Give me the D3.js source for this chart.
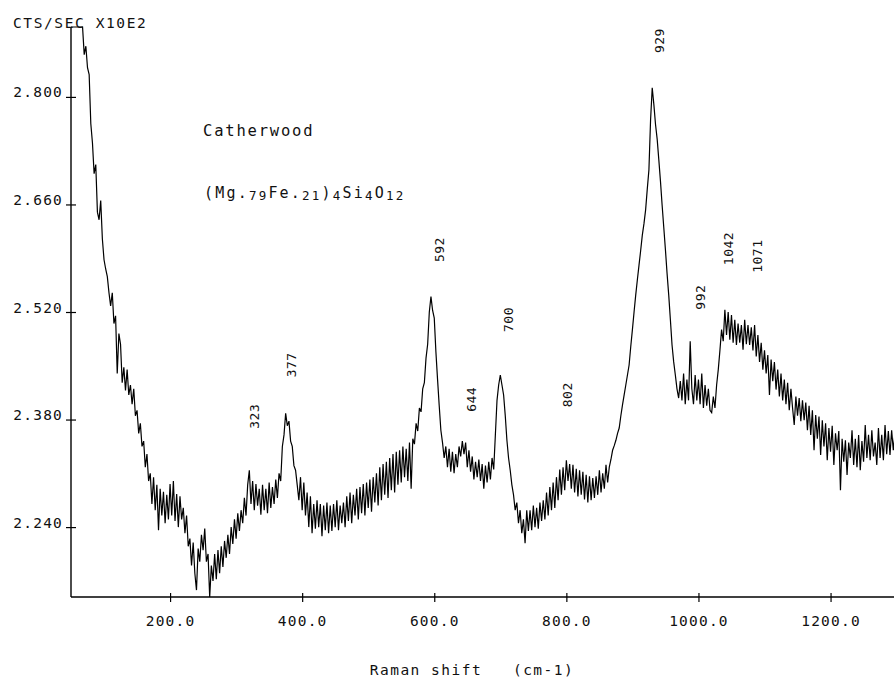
<!DOCTYPE html>
<html>
<head>
<meta charset="utf-8">
<script src="https://cdn.jsdelivr.net/npm/d3@7"></script>
<style>
  html, body { margin: 0; padding: 0; background: #fff; }
  svg { display: block; }
  text { font-family: "DejaVu Sans Mono", monospace; fill: #111; }
</style>
</head>
<body>
<div id="chart"></div>
<script>
// Raman spectrum, values, one every 2.5 cm-1 from 50 to 1300
const shiftStart = 50, shiftStep = 2.5;
const counts = [
  2.950, 2.950, 2.950, 2.950, 2.940, 2.940, 2.930, 2.900,
  2.855, 2.866, 2.838, 2.829, 2.765, 2.740, 2.700, 2.712, 2.650, 2.640,
  2.665, 2.615, 2.588, 2.576, 2.566, 2.545, 2.528, 2.545, 2.505, 2.515,
  2.440, 2.492, 2.478, 2.428, 2.448, 2.418, 2.445, 2.412, 2.425, 2.400,
  2.420, 2.385, 2.392, 2.362, 2.375, 2.345, 2.352, 2.318, 2.335, 2.300,
  2.310, 2.270, 2.305, 2.262, 2.295, 2.236, 2.290, 2.255, 2.286, 2.245,
  2.282, 2.250, 2.296, 2.255, 2.300, 2.248, 2.283, 2.240, 2.280, 2.250,
  2.265, 2.232, 2.255, 2.215, 2.225, 2.190, 2.220, 2.180, 2.158, 2.212,
  2.195, 2.230, 2.210, 2.238, 2.195, 2.205, 2.149, 2.190, 2.170, 2.205,
  2.172, 2.210, 2.180, 2.215, 2.188, 2.222, 2.200, 2.230, 2.205, 2.240,
  2.218, 2.250, 2.225, 2.258, 2.235, 2.262, 2.245, 2.278, 2.255, 2.295,
  2.314, 2.270, 2.300, 2.262, 2.296, 2.268, 2.290, 2.256, 2.295, 2.262,
  2.290, 2.258, 2.298, 2.265, 2.292, 2.270, 2.302, 2.278, 2.310, 2.300,
  2.345, 2.360, 2.388, 2.372, 2.378, 2.352, 2.345, 2.320, 2.314, 2.295,
  2.275, 2.305, 2.262, 2.298, 2.255, 2.285, 2.240, 2.280, 2.232, 2.270,
  2.238, 2.275, 2.240, 2.270, 2.228, 2.268, 2.236, 2.272, 2.232, 2.268,
  2.235, 2.270, 2.240, 2.275, 2.236, 2.268, 2.245, 2.272, 2.240, 2.280,
  2.248, 2.285, 2.245, 2.282, 2.255, 2.290, 2.250, 2.292, 2.258, 2.296,
  2.255, 2.298, 2.265, 2.302, 2.260, 2.305, 2.272, 2.310, 2.268, 2.318,
  2.275, 2.322, 2.282, 2.325, 2.278, 2.330, 2.288, 2.335, 2.285, 2.338,
  2.295, 2.340, 2.298, 2.345, 2.305, 2.342, 2.300, 2.350, 2.290, 2.355,
  2.348, 2.375, 2.365, 2.395, 2.390, 2.420, 2.428, 2.460, 2.478, 2.520,
  2.540, 2.522, 2.512, 2.468, 2.432, 2.398, 2.366, 2.350, 2.330, 2.345,
  2.318, 2.342, 2.312, 2.338, 2.310, 2.335, 2.318, 2.345, 2.332, 2.352,
  2.335, 2.350, 2.318, 2.340, 2.312, 2.332, 2.302, 2.325, 2.305, 2.328,
  2.300, 2.322, 2.290, 2.320, 2.298, 2.325, 2.302, 2.330, 2.315, 2.360,
  2.405, 2.425, 2.438, 2.425, 2.412, 2.385, 2.353, 2.330, 2.314, 2.295,
  2.282, 2.262, 2.272, 2.245, 2.262, 2.232, 2.250, 2.219, 2.262, 2.235,
  2.262, 2.236, 2.268, 2.240, 2.265, 2.238, 2.272, 2.248, 2.275, 2.250,
  2.285, 2.255, 2.292, 2.262, 2.298, 2.265, 2.305, 2.275, 2.315, 2.282,
  2.318, 2.288, 2.327, 2.300, 2.322, 2.290, 2.321, 2.285, 2.316, 2.280,
  2.314, 2.282, 2.312, 2.276, 2.308, 2.272, 2.306, 2.275, 2.304, 2.278,
  2.306, 2.282, 2.314, 2.285, 2.310, 2.290, 2.321, 2.298, 2.318, 2.328,
  2.340, 2.346, 2.353, 2.362, 2.369, 2.385, 2.399, 2.412, 2.425, 2.438,
  2.451, 2.475, 2.497, 2.520, 2.542, 2.562, 2.581, 2.600, 2.620, 2.635,
  2.653, 2.680, 2.705, 2.770, 2.812, 2.790, 2.764, 2.745, 2.718, 2.690,
  2.659, 2.630, 2.601, 2.570, 2.542, 2.510, 2.477, 2.455, 2.438, 2.420,
  2.408, 2.430, 2.405, 2.440, 2.400, 2.432, 2.405, 2.482, 2.420, 2.400,
  2.438, 2.405, 2.432, 2.400, 2.440, 2.395, 2.425, 2.398, 2.420, 2.392,
  2.389, 2.410, 2.395, 2.425, 2.445, 2.470, 2.497, 2.482, 2.523, 2.490,
  2.520, 2.484, 2.516, 2.480, 2.510, 2.477, 2.505, 2.480, 2.503, 2.471,
  2.510, 2.478, 2.503, 2.477, 2.500, 2.470, 2.503, 2.462, 2.490, 2.455,
  2.480, 2.445, 2.470, 2.440, 2.464, 2.412, 2.458, 2.430, 2.455, 2.419,
  2.445, 2.410, 2.440, 2.405, 2.432, 2.400, 2.428, 2.392, 2.420, 2.395,
  2.373, 2.410, 2.385, 2.408, 2.378, 2.405, 2.379, 2.402, 2.366, 2.398,
  2.360, 2.392, 2.340, 2.386, 2.355, 2.384, 2.334, 2.379, 2.345, 2.375,
  2.327, 2.369, 2.338, 2.372, 2.321, 2.362, 2.340, 2.365, 2.288, 2.355,
  2.325, 2.353, 2.308, 2.350, 2.330, 2.366, 2.321, 2.355, 2.318, 2.360,
  2.314, 2.352, 2.325, 2.373, 2.330, 2.360, 2.327, 2.366, 2.332, 2.350,
  2.321, 2.369, 2.330, 2.360, 2.327, 2.373, 2.335, 2.365, 2.334, 2.366,
  2.340, 2.362, 2.353
];

const xTicks = [200, 400, 600, 800, 1000, 1200];
const yTicks = [2.240, 2.380, 2.520, 2.660, 2.800];

// peak annotations: label, where the label sits (cm-1), label foot (cts)
const peakNames = ['323', '377', '592', '644', '700', '802', '929', '992', '1042', '1071'];
const peakLabelAt = [327, 383, 607, 655, 712, 801, 940, 1002, 1045, 1089];
const peakLabelFoot = [2.368, 2.435, 2.585, 2.390, 2.494, 2.396, 2.857, 2.523, 2.581, 2.571];

const width = 894, height = 678;

const svg = d3.select('#chart').append('svg')
  .attr('width', width)
  .attr('height', height);

svg.append('rect').attr('width', width).attr('height', height).attr('fill', '#fff');

const x = d3.scaleLinear().domain([50, 1300]).range([71, 896.6]);
const y = d3.scaleLinear().domain([2.149, 2.891]).range([597, 27]).clamp(true);

const points = counts.map((c, i) => [shiftStart + i * shiftStep, c]);

// trace
svg.append('path')
  .datum(points)
  .attr('fill', 'none')
  .attr('stroke', '#000')
  .attr('stroke-width', 1.2)
  .attr('d', d3.line().x(d => x(d[0])).y(d => y(d[1])));

// axes
const yAxis = svg.append('g')
  .attr('transform', 'translate(71,0)')
  .call(d3.axisLeft(y).tickValues(yTicks).tickFormat(d3.format('.3f')).tickSize(5).tickPadding(3));
yAxis.select('.domain').attr('d', 'M0,27V597').attr('stroke-width', 1.4);
yAxis.selectAll('.tick line').attr('x1', 5).attr('stroke-width', 1.2);
yAxis.selectAll('.tick text')
  .attr('dy', 0)
  .attr('font-size', 14.5)
  .attr('letter-spacing', 1.2)
  .attr('font-family', '"DejaVu Sans Mono", monospace');

const xAxis = svg.append('g')
  .attr('transform', 'translate(0,597)')
  .call(d3.axisBottom(x).tickValues(xTicks).tickFormat(d3.format('.1f')).tickSize(5));
xAxis.select('.domain').attr('d', 'M71,0H894').attr('stroke-width', 1.4);
xAxis.selectAll('.tick line').attr('y1', -4).attr('stroke-width', 1.2);
xAxis.selectAll('.tick text')
  .attr('y', 29)
  .attr('dy', 0)
  .attr('font-size', 14.5)
  .attr('letter-spacing', 1.2)
  .attr('font-family', '"DejaVu Sans Mono", monospace');

// titles
svg.append('text')
  .attr('x', 13).attr('y', 28)
  .attr('font-size', 14.5)
  .attr('letter-spacing', 1.6)
  .text('CTS/SEC X10E2');

svg.append('text')
  .attr('x', 472).attr('y', 675)
  .attr('text-anchor', 'middle')
  .attr('font-size', 14.5)
  .attr('letter-spacing', 1.5)
  .style('white-space', 'pre')
  .text('Raman shift   (cm-1)');

svg.append('text')
  .attr('x', 203).attr('y', 136)
  .attr('font-size', 15.5)
  .attr('letter-spacing', 1.8)
  .text('Catherwood');

// formula with subscripts
const formulaParts = [['(Mg.', 0], ['79', 1], ['Fe.', 0], ['21', 1], [')', 0], ['4', 1],
  ['Si', 0], ['4', 1], ['O', 0], ['12', 1]];
const formula = svg.append('text')
  .attr('x', 204).attr('y', 198)
  .attr('font-size', 15)
  .attr('letter-spacing', 2.2);
let wasSub = 0;
formulaParts.forEach(([t, sub]) => {
  const ts = formula.append('tspan').text(t).attr('dy', (sub - wasSub) * 2);
  if (sub) ts.attr('font-size', 12.5);
  wasSub = sub;
});

// peak labels (rotated, read bottom to top)
svg.append('g').selectAll('text')
  .data(peakNames)
  .enter().append('text')
  .attr('transform', (d, i) => `translate(${x(peakLabelAt[i]) + 5},${y(peakLabelFoot[i])}) rotate(-90)`)
  .attr('font-size', 13)
  .attr('letter-spacing', 0.5)
  .text(d => d);
</script>
</body>
</html>
